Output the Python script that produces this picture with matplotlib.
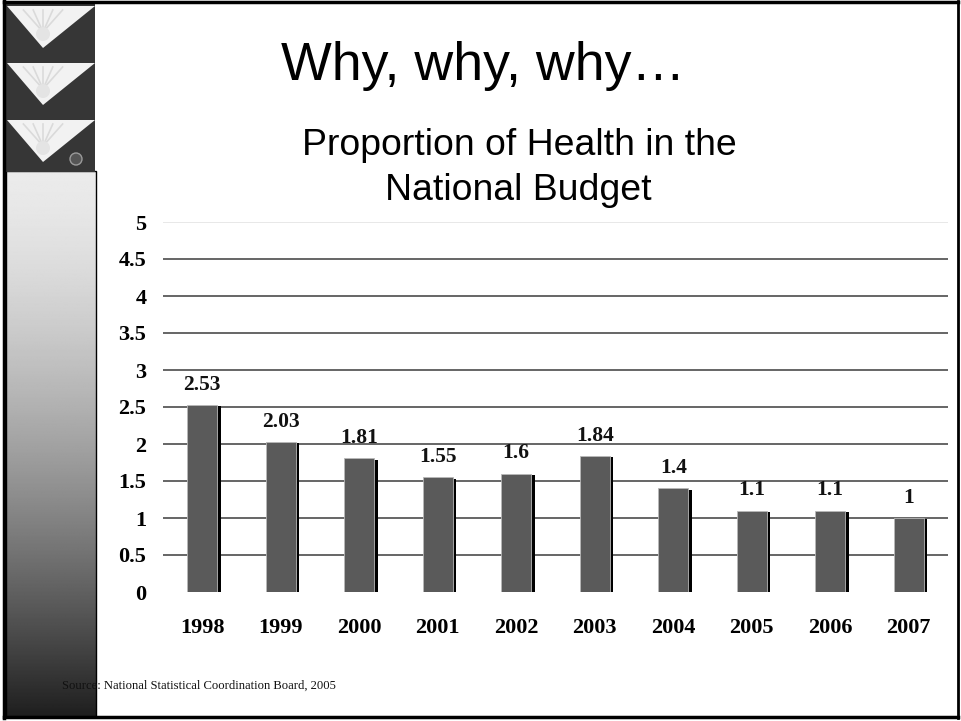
"""
Slide: proportion of health in the national budget, 1998-2007.
"""

import matplotlib
matplotlib.use('Agg')
import matplotlib.pyplot as plt
import numpy as np
from matplotlib.patches import Polygon, Rectangle, Circle

years = ['1998', '1999', '2000', '2001', '2002', '2003', '2004', '2005', '2006', '2007']
share = [2.53, 2.03, 1.81, 1.55, 1.6, 1.84, 1.4, 1.1, 1.1, 1.0]
share_labels = ['2.53', '2.03', '1.81', '1.55', '1.6', '1.84', '1.4', '1.1', '1.1', '1']
yticks = [0, 0.5, 1, 1.5, 2, 2.5, 3, 3.5, 4, 4.5, 5]
ytick_labels = ['0', '0.5', '1', '1.5', '2', '2.5', '3', '3.5', '4', '4.5', '5']

SERIF = ['Liberation Serif', 'DejaVu Serif']
SANS = ['Liberation Sans', 'DejaVu Sans']

fig = plt.figure(figsize=(9.61, 7.21), dpi=100)
fig.patch.set_facecolor('white')

# slide decoration, in pixel coordinates
bg = fig.add_axes([0, 0, 1, 1], zorder=0)
bg.set_xlim(0, 961)
bg.set_ylim(721, 0)
bg.axis('off')

# gradient side panel
t = np.linspace(0, 1, 400)[:, None]
grad = 0.92 - 0.8 * t ** 1.5
bg.imshow(grad, extent=(6, 96, 717, 171), aspect='auto', cmap='gray',
          vmin=0, vmax=1, interpolation='bilinear', zorder=1)
bg.add_patch(Rectangle((6, 171), 90, 546, fill=False, edgecolor='black', lw=1.0, zorder=2))

# logo block
bg.add_patch(Rectangle((5, 2), 90, 170, facecolor='#363636', edgecolor='none', zorder=2))
for top in [4, 61, 118]:
    bg.add_patch(Polygon([(7, top + 2), (95, top + 2), (43, top + 44)], closed=True,
                         facecolor='#f2f2f2', edgecolor='none', zorder=3))
    for dx in [-14, -7, 0, 7, 14]:
        bg.plot([43, 43 + dx * 1.4], [top + 28, top + 6], color='#dadada', lw=1.2, zorder=4)
    bg.add_patch(Circle((43, top + 30), 7, facecolor='#e4e4e4', edgecolor='none', zorder=4))
bg.add_patch(Circle((76, 159), 6, facecolor='#555555', edgecolor='#9a9a9a', lw=1, zorder=4))

# slide frame
bg.plot([4, 4], [1, 718], color='black', lw=2.5, zorder=5)
bg.plot([4, 958], [1.5, 1.5], color='black', lw=2.5, zorder=5)
bg.plot([958, 958], [1, 718], color='black', lw=2.0, zorder=5)
bg.plot([4, 958], [717, 717], color='black', lw=2.5, zorder=5)

# titles
fig.text(483 / 961, 1 - 80 / 721, 'Why, why, why…', ha='center', va='baseline',
         fontsize=38.7, family=SANS, color='black')
fig.text(519 / 961, 1 - 155 / 721, 'Proportion of Health in the',
         ha='center', va='baseline', fontsize=26.9, family=SANS, color='black')
fig.text(518 / 961, 1 - 200 / 721, 'National Budget',
         ha='center', va='baseline', fontsize=26.9, family=SANS, color='black')
fig.text(62 / 961, 1 - 686 / 721, 'Source: National Statistical Coordination Board, 2005',
         ha='left', va='center', fontsize=9.1, family=SERIF, color='#111111', zorder=10)

# chart
ax = fig.add_axes([163 / 961, 129 / 721, 785 / 961, 370 / 721], zorder=2)
ax.patch.set_alpha(0)
x = np.arange(len(years))

for yv in yticks[1:-1]:
    ax.axhline(yv, color='#3c3c3c', lw=1.1, zorder=1)
ax.axhline(5, color='#e2e2e2', lw=1.1, zorder=1)

# shadow, then the bar face
ax.bar(x + 0.045, [v - 0.02 for v in share], bottom=0, width=0.38,
       color='black', edgecolor='none', zorder=2)
ax.bar(x, share, width=0.38, color='#5a5a5a', edgecolor='#b8b8b8', lw=0.6, zorder=3)

for xi, v, lab in zip(x, share, share_labels):
    ax.annotate(lab, (xi, v), xytext=(0, 11), textcoords='offset points',
                ha='center', va='baseline', fontsize=15.5, fontweight='bold',
                family=SERIF, color='#111111')

ax.set_xlim(-0.5, 9.5)
ax.set_ylim(0, 5)
ax.set_yticks(yticks)
ax.set_yticklabels(ytick_labels, fontsize=16, fontweight='bold', family=SERIF)
ax.set_xticks(x)
ax.set_xticklabels(years, fontsize=16, fontweight='bold', family=SERIF)
ax.tick_params(axis='y', length=0, pad=12)
ax.tick_params(axis='x', length=0, pad=19)
for s in ax.spines.values():
    s.set_visible(False)

fig.savefig('out.png', dpi=100)
